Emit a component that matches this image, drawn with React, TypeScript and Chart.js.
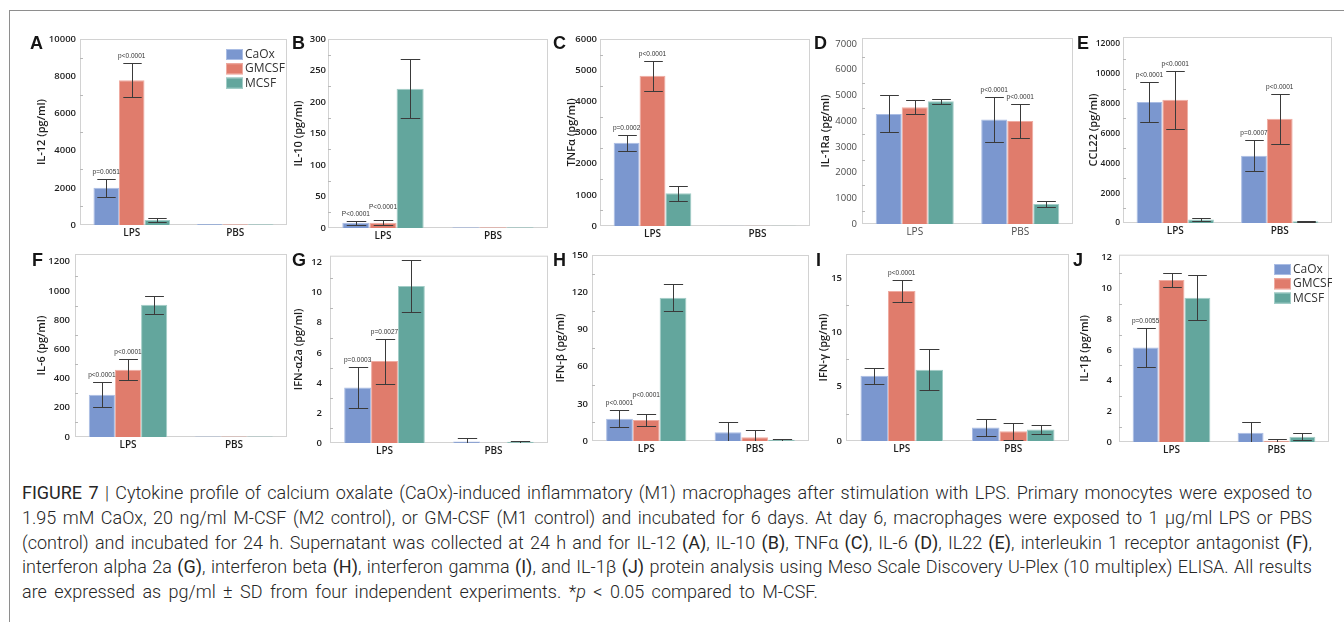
import React, { useEffect, useRef } from "react";
import { Chart, registerables } from "chart.js";
Chart.register(...registerables);

// ---------- data ----------
const categories = ["LPS", "PBS"];
const seriesNames = ["CaOx", "GMCSF", "MCSF"];
const fillColors = ["#7b97cf", "#e07c6c", "#63a69d"];
const edgeColors = ["#aabde4", "#efaca2", "#a2cdc7"];

// rows: CaOx, GMCSF, MCSF ; columns: LPS, PBS
const il12Mean = [[2000, 50], [7780, 40], [270, 40]];
const il12Sd = [[500, 0], [920, 0], [100, 0]];
const il12P = [["p=0.0051", ""], ["p<0.0001", ""], ["", ""]];
const il12Ticks = [0, 2000, 4000, 6000, 8000, 10000];

const il10Mean = [[8.3, 1], [8.5, 1], [221, 1]];
const il10Sd = [[3, 0], [4, 0], [47, 0]];
const il10P = [["P<0.0001", ""], ["P<0.0001", ""], ["", ""]];
const il10Ticks = [0, 50, 100, 150, 200, 250, 300];

const tnfMean = [[2670, 12], [4820, 12], [1050, 10]];
const tnfSd = [[250, 0], [490, 0], [235, 0]];
const tnfP = [["p=0.0002", ""], ["p<0.0001", ""], ["", ""]];
const tnfTicks = [0, 1000, 2000, 3000, 4000, 5000, 6000];

const il1raMean = [[4280, 4060], [4540, 4000], [4770, 780]];
const il1raSd = [[720, 870], [270, 655], [100, 120]];
const il1raP = [["", "p<0.0001"], ["", "p<0.0001"], ["", ""]];
const il1raTicks = [0, 1000, 2000, 3000, 4000, 5000, 6000, 7000];

const ccl22Mean = [[8100, 4500], [8250, 6970], [230, 110]];
const ccl22Sd = [[1320, 1030], [1930, 1680], [110, 40]];
const ccl22P = [["p<0.0001", "p=0.0007"], ["p<0.0001", "p<0.0001"], ["", ""]];
const ccl22Ticks = [0, 2000, 4000, 6000, 8000, 10000, 12000];

const il6Mean = [[290, 3], [460, 3], [905, 3]];
const il6Sd = [[88, 0], [72, 0], [63, 0]];
const il6P = [["p<0.0001", ""], ["p<0.0001", ""], ["", ""]];
const il6Ticks = [0, 200, 400, 600, 800, 1000, 1200];

const ifna2aMean = [[3.7, 0.1], [5.45, 0], [10.45, 0.08]];
const ifna2aSd = [[1.35, 0.2], [1.5, 0], [1.75, 0.08]];
const ifna2aP = [["p=0.0003", ""], ["p=0.0027", ""], ["", ""]];
const ifna2aTicks = [0, 2, 4, 6, 8, 10, 12];

const ifnbMean = [[18, 7], [17, 3], [115.5, 1]];
const ifnbSd = [[7, 8], [4.5, 5.5], [11, 1]];
const ifnbP = [["p<0.0001", ""], ["p<0.0001", ""], ["", ""]];
const ifnbTicks = [0, 30, 60, 90, 120, 150];

const ifngMean = [[6.0, 1.25], [13.8, 0.9], [6.55, 1.05]];
const ifngSd = [[0.75, 0.75], [1.0, 0.8], [1.9, 0.4]];
const ifngP = [["", ""], ["p<0.0001", ""], ["", ""]];
const ifngTicks = [0, 5, 10, 15];

const il1bMean = [[6.15, 0.6], [10.55, 0.08], [9.4, 0.35]];
const il1bSd = [[1.25, 0.72], [0.45, 0.12], [1.45, 0.23]];
const il1bP = [["p=0.0055", ""], ["", ""], ["", ""]];
const il1bTicks = [0, 2, 4, 6, 8, 10, 12];

// ---------- layout ----------
type Spec = {
  id: string; title: string; mean: number[][]; sd: number[][]; p: string[][]; ticks: number[]; max: number;
  L: number; T: number; R: number; B: number; tcx: number; tickPad: number; letter: [number, number];
  legend?: [number, number]; light?: boolean; tickSize?: number; titleSize?: number; pLift?: number[][];
};

const panels: Spec[] = [
  { id: "A", title: "IL-12 (pg/ml)", mean: il12Mean, sd: il12Sd, p: il12P, ticks: il12Ticks, max: 10000,
    L: 80, T: 39, R: 287, B: 225, tcx: 41.5, tickPad: 4, letter: [30, 37], legend: [226, 49] },
  { id: "B", title: "IL-10 (pg/ml)", mean: il10Mean, sd: il10Sd, p: il10P, ticks: il10Ticks, max: 300,
    L: 328, T: 39, R: 548, B: 228, tcx: 299, tickPad: 2, letter: [292, 37], pLift: [[0, 0], [6, 0], [0, 0]] },
  { id: "C", title: "TNFα (pg/ml)", mean: tnfMean, sd: tnfSd, p: tnfP, ticks: tnfTicks, max: 6000,
    L: 600, T: 39, R: 810, B: 226, tcx: 572, tickPad: 3, letter: [553, 37] },
  { id: "D", title: "IL-1Ra (pg/ml)", mean: il1raMean, sd: il1raSd, p: il1raP, ticks: il1raTicks, max: 7230,
    L: 862, T: 38, R: 1073, B: 224, tcx: 826, tickPad: 5, letter: [814, 37], light: true },
  { id: "E", title: "CCL22 (pg/ml)", mean: ccl22Mean, sd: ccl22Sd, p: ccl22P, ticks: ccl22Ticks, max: 12450,
    L: 1123, T: 37, R: 1332, B: 223, tcx: 1094, tickPad: 3, letter: [1077, 37], tickSize: 8.5 },
  { id: "F", title: "IL-6 (pg/ml)", mean: il6Mean, sd: il6Sd, p: il6P, ticks: il6Ticks, max: 1253,
    L: 75, T: 254, R: 287, B: 437, tcx: 41.5, tickPad: 5, letter: [32, 254] },
  { id: "G", title: "IFN-α2a (pg/ml)", mean: ifna2aMean, sd: ifna2aSd, p: ifna2aP, ticks: ifna2aTicks, max: 12.46,
    L: 330, T: 254, R: 548, B: 443, tcx: 299, tickPad: 8, letter: [292, 254] },
  { id: "H", title: "IFN-β (pg/ml)", mean: ifnbMean, sd: ifnbSd, p: ifnbP, ticks: ifnbTicks, max: 150,
    L: 592, T: 255, R: 809, B: 441, tcx: 561, tickPad: 4, letter: [553, 254], pLift: [[0, 0], [12, 0], [0, 0]] },
  { id: "I", title: "IFN-γ (pg/ml)", mean: ifngMean, sd: ifngSd, p: ifngP, ticks: ifngTicks, max: 17.2,
    L: 846, T: 254, R: 1069, B: 441, tcx: 824, tickPad: 4, letter: [816, 254] },
  { id: "J", title: "IL-1β (pg/ml)", mean: il1bMean, sd: il1bSd, p: il1bP, ticks: il1bTicks, max: 12.2,
    L: 1119, T: 254, R: 1329, B: 442, tcx: 1085, tickPad: 7, letter: [1073, 254], legend: [1274, 264] },
];

const SANS = "'Open Sans', 'DejaVu Sans', sans-serif";
const TITLE_SIZE = 11;
const PAD_TOP = 12;
const PAD_RIGHT = 3;
const X_H = 20;

function Panel({ spec }: { spec: Spec }) {
  const ref = useRef<HTMLCanvasElement>(null);
  const tSize = spec.titleSize ?? TITLE_SIZE;
  const titleOffset = (tSize * 1.2) / 2 + 4;
  const canvasLeft = Math.round(spec.tcx - titleOffset);
  const yW = spec.L - canvasLeft;
  const canvasTop = spec.T - PAD_TOP;
  const width = Math.round(spec.R - canvasLeft + PAD_RIGHT);
  const height = Math.round(spec.B - spec.T + PAD_TOP + X_H);

  useEffect(() => {
    const canvas = ref.current!;
    const tickColor = spec.light ? "#4a4a4a" : "#1e1e1e";
    const tickWeight = spec.light ? "400" : "600";

    const decor = {
      id: "decor",
      beforeDatasetsDraw(chart: any) {
        const { ctx, chartArea: a } = chart;
        const y = chart.scales.y;
        ctx.save();
        ctx.strokeStyle = "#d2d2d2";
        ctx.lineWidth = 1;
        ctx.strokeRect(a.left + 0.5, a.top + 0.5, a.right - a.left - 1, a.bottom - a.top - 1);
        ctx.strokeStyle = "#b8b8b8";
        for (let k = 0; k < spec.ticks.length - 1; k++) {
          const mid = (spec.ticks[k] + spec.ticks[k + 1]) / 2;
          const py = Math.round(y.getPixelForValue(mid)) + 0.5;
          ctx.beginPath();
          ctx.moveTo(a.left, py);
          ctx.lineTo(a.left + 3, py);
          ctx.stroke();
        }
        ctx.restore();
      },
      afterDatasetsDraw(chart: any) {
        const { ctx, chartArea: a } = chart;
        const y = chart.scales.y;
        ctx.save();
        ctx.strokeStyle = "#3a3a3a";
        ctx.lineWidth = 1;
        chart.data.datasets.forEach((_: any, i: number) => {
          const meta = chart.getDatasetMeta(i);
          meta.data.forEach((bar: any, j: number) => {
            const m = spec.mean[i][j];
            const s = spec.sd[i][j];
            const cx = Math.round(bar.x) + 0.5;
            const half = bar.width * 0.36;
            let topY = y.getPixelForValue(m);
            if (s > 0) {
              const hi = Math.round(y.getPixelForValue(m + s)) + 0.5;
              const loV = m - s;
              const lo = loV > 0 ? Math.round(y.getPixelForValue(loV)) + 0.5 : a.bottom;
              ctx.strokeStyle = "#3a3a3a";
              ctx.beginPath();
              ctx.moveTo(cx, hi);
              ctx.lineTo(cx, lo);
              ctx.moveTo(cx - half, hi);
              ctx.lineTo(cx + half, hi);
              if (loV > 0) {
                ctx.moveTo(cx - half, lo);
                ctx.lineTo(cx + half, lo);
              }
              ctx.stroke();
              topY = hi;
            }
            const label = spec.p[i][j];
            if (label) {
              const lift = spec.pLift ? spec.pLift[i][j] : 0;
              ctx.fillStyle = "#333";
              ctx.font = "6.5px 'Liberation Sans', Arial, sans-serif";
              ctx.textAlign = "center";
              ctx.textBaseline = "bottom";
              ctx.fillText(label, bar.x, topY - 4 - lift);
            }
          });
        });
        if (spec.legend) {
          const lx = spec.legend[0] - canvasLeft;
          const ly = spec.legend[1] - canvasTop;
          seriesNames.forEach((name, i) => {
            const by = ly + i * 14.3;
            ctx.fillStyle = fillColors[i];
            ctx.fillRect(lx, by, 17, 11);
            ctx.strokeStyle = edgeColors[i];
            ctx.strokeRect(lx + 0.5, by + 0.5, 16, 10);
            ctx.fillStyle = "#333";
            ctx.font = `12px ${SANS}`;
            ctx.textAlign = "left";
            ctx.textBaseline = "middle";
            ctx.fillText(name, lx + 19, by + 5.5);
          });
        }
        ctx.restore();
      },
    };

    const chart = new Chart(canvas, {
      type: "bar",
      data: {
        labels: categories,
        datasets: seriesNames.map((name, i) => ({
          label: name,
          data: spec.mean[i],
          backgroundColor: fillColors[i],
          borderColor: edgeColors[i],
          borderWidth: 1,
          categoryPercentage: 0.74,
          barPercentage: 1.0,
        })),
      },
      options: {
        animation: false,
        responsive: false,
        devicePixelRatio: 1,
        layout: { padding: { top: PAD_TOP, right: PAD_RIGHT, left: 0, bottom: 0 } },
        plugins: { legend: { display: false }, tooltip: { enabled: false } },
        scales: {
          x: {
            grid: { display: false, drawTicks: false },
            border: { display: false },
            ticks: { font: { family: SANS, size: 10, weight: tickWeight }, color: tickColor, padding: 2 },
            afterFit: (s: any) => { s.height = X_H; },
          },
          y: {
            min: 0,
            max: spec.max,
            grid: { display: false, drawTicks: false },
            border: { display: false },
            afterBuildTicks: (s: any) => { s.ticks = spec.ticks.map((v) => ({ value: v })); },
            ticks: {
              font: { family: SANS, size: spec.tickSize ?? 9.5, weight: tickWeight },
              color: tickColor,
              padding: spec.tickPad,
              callback: (v: any) => String(v),
            },
            title: {
              display: true,
              text: spec.title,
              font: { family: SANS, size: tSize, weight: "600" },
              color: "#1e1e1e",
              padding: { top: 4, bottom: 4 },
            },
            afterFit: (s: any) => { s.width = yW; },
          },
        },
      } as any,
      plugins: [decor],
    });
    return () => chart.destroy();
  }, []);

  return (
    <canvas
      ref={ref}
      width={width}
      height={height}
      style={{ position: "absolute", left: canvasLeft, top: canvasTop, width, height }}
    />
  );
}

const capLines: React.ReactNode[] = [
  <><b>FIGURE 7</b> | Cytokine profile of calcium oxalate (CaOx)-induced inflammatory (M1) macrophages after stimulation with LPS. Primary monocytes were exposed to</>,
  <>1.95 mM CaOx, 20 ng/ml M-CSF (M2 control), or GM-CSF (M1 control) and incubated for 6 days. At day 6, macrophages were exposed to 1 μg/ml LPS or PBS</>,
  <>(control) and incubated for 24 h. Supernatant was collected at 24 h and for IL-12 <b>(A)</b>, IL-10 <b>(B)</b>, TNFα <b>(C)</b>, IL-6 <b>(D)</b>, IL22 <b>(E)</b>, interleukin 1 receptor antagonist <b>(F)</b>,</>,
  <>interferon alpha 2a <b>(G)</b>, interferon beta <b>(H)</b>, interferon gamma <b>(I)</b>, and IL-1β <b>(J)</b> protein analysis using Meso Scale Discovery U-Plex (10 multiplex) ELISA. All results</>,
  <>are expressed as pg/ml ± SD from four independent experiments. *<i>p</i> &lt; 0.05 compared to M-CSF.</>,
];

export default function App() {
  return (
    <div style={{ position: "absolute", left: 0, top: 0, width: 1344, height: 622, background: "#fff", overflow: "hidden" }}>
      <div style={{ position: "absolute", left: 9, top: 10, width: 1335, height: 1, background: "#8e8e8e" }} />
      <div style={{ position: "absolute", left: 9, top: 10, width: 1, height: 612, background: "#8e8e8e" }} />
      {panels.map((p) => <Panel key={p.id} spec={p} />)}
      {panels.map((p) => (
        <div key={"l" + p.id} style={{
          position: "absolute", left: p.letter[0], top: p.letter[1] - 3, fontFamily: "'Liberation Sans', Arial, sans-serif",
          fontWeight: 700, fontSize: 18, lineHeight: "18px", color: "#151515",
        }}>{p.id}</div>
      ))}
      {capLines.map((line, k) => (
        <div key={"c" + k} style={{
          position: "absolute", left: 22, top: 480 + k * 24.8, width: 1290, whiteSpace: "nowrap",
          fontFamily: "Roboto, 'Liberation Sans', sans-serif", fontWeight: 300, fontSize: 18, lineHeight: "25px",
          color: "#262626", textAlign: k < 4 ? "justify" : "left", textAlignLast: k < 4 ? "justify" : "left",
          wordSpacing: k < 4 ? undefined : "3px",
        } as any}>{line}</div>
      ))}
    </div>
  );
}
